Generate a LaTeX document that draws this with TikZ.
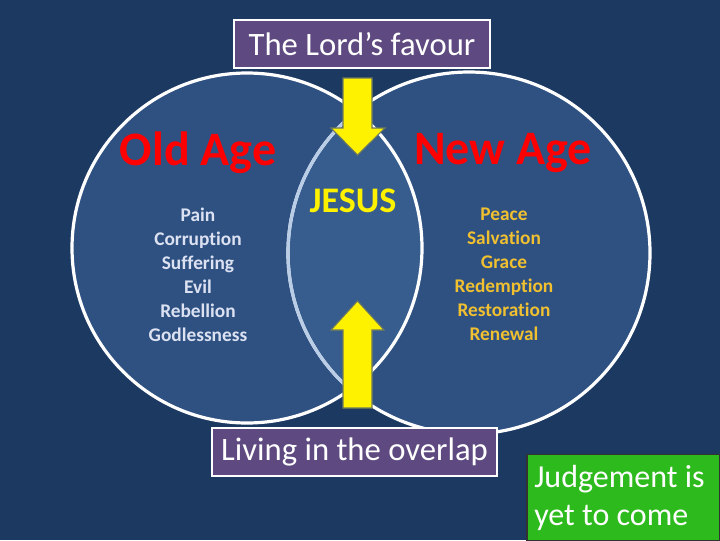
\documentclass[tikz,border=0pt]{standalone}
\usepackage{fontspec}
\setmainfont{Carlito}[Ligatures=CommonOff]
\definecolor{bg}{HTML}{1C3962}
\definecolor{circ}{HTML}{2E5182}
\definecolor{lens}{HTML}{375C8E}
\definecolor{lensedge}{HTML}{B9CDE6}
\definecolor{boxpurple}{HTML}{5E4A80}
\definecolor{jgreen}{HTML}{2DBA1C}
\definecolor{listl}{HTML}{DDE2F2}
\definecolor{listr}{HTML}{F0C030}
\definecolor{arrowedge}{HTML}{6E7A5C}
\tikzset{
  agetitle/.style={text=red, font=\bfseries\fontsize{36}{40}\selectfont, inner sep=0},
  listtext/.style={font=\bfseries\fontsize{14.5}{18}\selectfont, align=center, inner sep=0},
  labelbox/.style={fill=boxpurple, draw=white, line width=2.2pt, text=white, font=\fontsize{24.5}{28}\selectfont, inner sep=0, minimum height=36pt},
  yarrow/.style={fill=yellow, draw=arrowedge, line width=0.8pt, line join=miter}
}
\begin{document}
\begin{tikzpicture}[x=0.75pt,y=-0.75pt]
\fill[bg] (0,0) rectangle (720,540);
\useasboundingbox (0,0) rectangle (720,540);
% circles
\coordinate (lc) at (247,248);
\coordinate (rc) at (469,253);
\fill[circ] (lc) circle[radius=175*0.75pt];
\fill[circ] (rc) circle[radius=181*0.75pt];
\begin{scope}
  \clip (lc) circle[radius=175*0.75pt];
  \fill[lens] (rc) circle[radius=181*0.75pt];
\end{scope}
\draw[white, line width=2.4pt] (rc) circle[radius=181*0.75pt];
\draw[white, line width=2.4pt] (lc) circle[radius=175*0.75pt];
\begin{scope}
  \clip (lc) circle[radius=174*0.75pt];
  \draw[lensedge, line width=2.4pt] (rc) circle[radius=181*0.75pt];
\end{scope}
% titles
\node[agetitle] (old) at (198,153) {Old Age};
\node[agetitle] (new) at (503,153) {New Age};
\node[text=yellow, font=\bfseries\fontsize{27}{30}\selectfont, inner sep=0] (jesus) at (353,201) {JESUS};
% lists
\node[listtext, text=listl, anchor=north] (oldlist) at (198,208) {Pain\\Corruption\\Suffering\\Evil\\Rebellion\\Godlessness};
\node[listtext, text=listr, anchor=north] (newlist) at (504,208) {Peace\\Salvation\\Grace\\Redemption\\Restoration\\Renewal};
% arrows
\draw[yarrow] (343,78) -- (372,78) -- (372,128) -- (385,128) -- (357.5,155) -- (331,128) -- (343,128) -- cycle;
\draw[yarrow] (343,408) -- (372,408) -- (372,330) -- (384,330) -- (357.5,301) -- (331,330) -- (343,330) -- cycle;
% boxes
\node[labelbox, minimum width=192pt] (favour) at (362,44) {The Lord’s favour};
\node[labelbox, minimum width=213.75pt] (overlap) at (354.5,452) {Living in the overlap};
\node[fill=jgreen, draw=black!80, line width=1pt, minimum width=144.75pt, minimum height=64.5pt, inner sep=0] (judge) at (623.5,497.5) {};
\node[text=white, font=\fontsize{24}{28}\selectfont, align=left, anchor=west, inner sep=0] (judgetext) at (534,498) {Judgement is\\yet to come};
\end{tikzpicture}
\end{document}
